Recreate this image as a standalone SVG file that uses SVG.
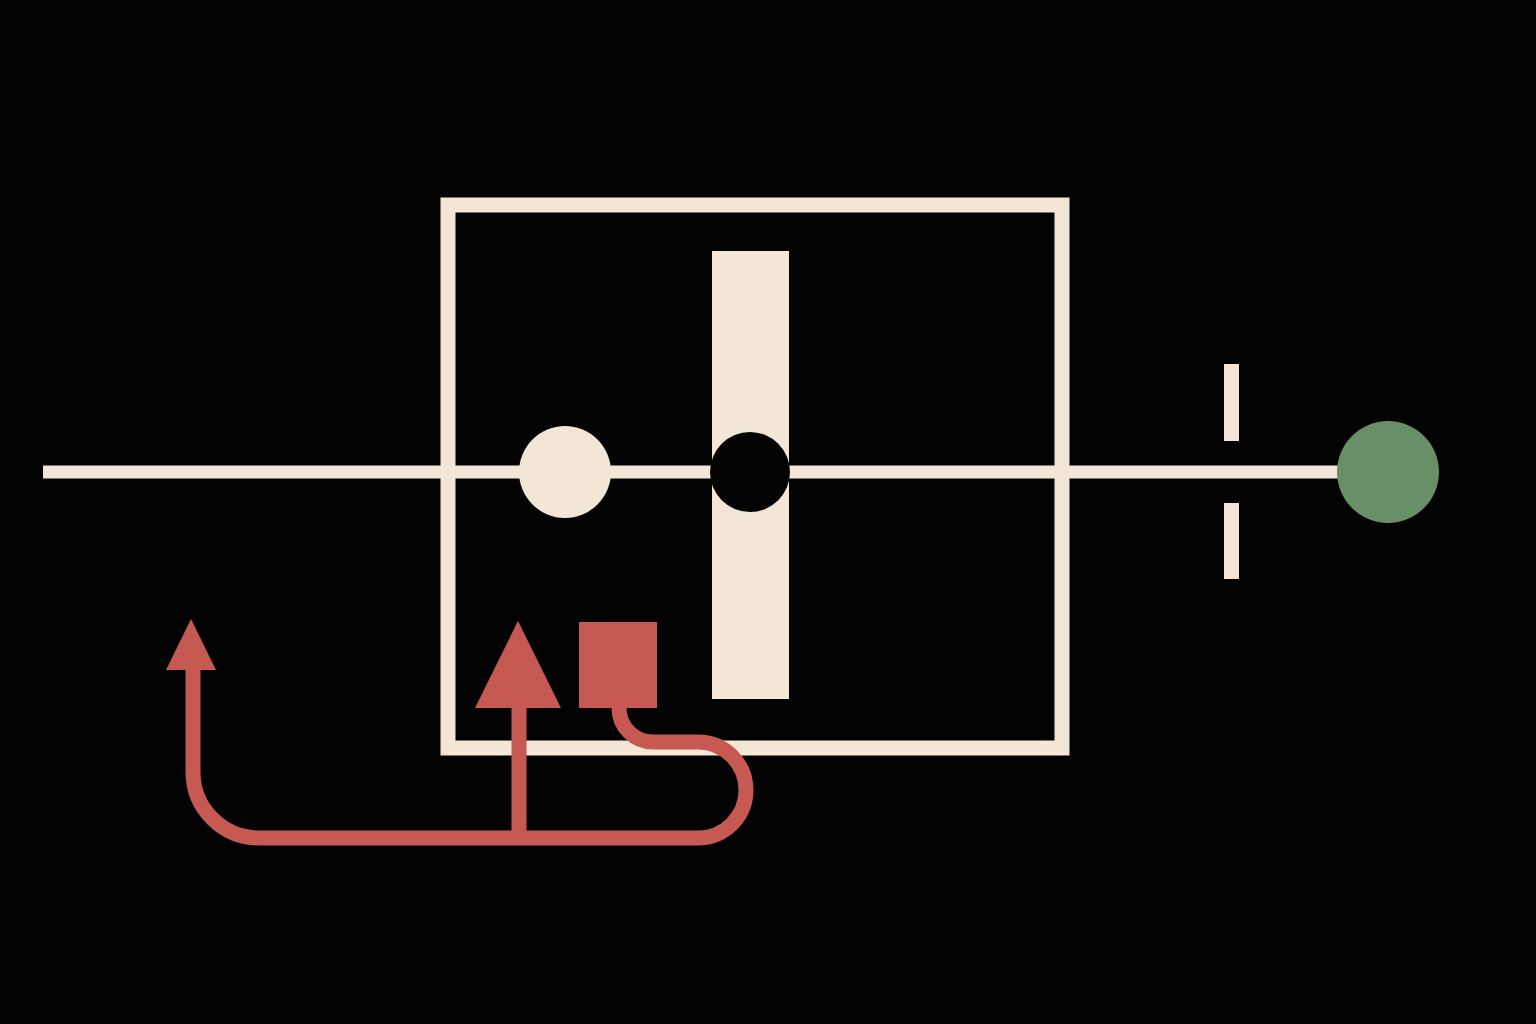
<svg xmlns="http://www.w3.org/2000/svg" width="1536" height="1024" viewBox="0 0 1536 1024">
<style>
.cream{fill:#f4e6d6}
.line{stroke:#f4e6d6;fill:none}
.red{fill:#c65a53}
.pipe{stroke:#c65a53;fill:none;stroke-width:15}
</style>
<rect width="1536" height="1024" fill="#030303"/>
<g id="connectors">
<line class="line" x1="43" y1="472" x2="1345" y2="472" stroke-width="13"/>
</g>
<g id="housing">
<rect class="line" x="448" y="205" width="614" height="543" stroke-width="15"/>
</g>
<g id="valve-ball">
<circle class="cream" cx="565" cy="472" r="46"/>
</g>
<g id="gate">
<rect class="cream" x="712" y="251" width="77" height="448"/>
<circle cx="750" cy="472" r="40" fill="#030303"/>
</g>
<g id="capacitor">
<rect class="cream" x="1224" y="364" width="15" height="77"/>
<rect class="cream" x="1224" y="503" width="15" height="76"/>
</g>
<g id="terminal">
<circle cx="1388" cy="472" r="51" fill="#698f67"/>
</g>
<g id="feedback">
<path class="pipe" d="M619 705 L619 708 A34 34 0 0 0 653 742 L698 742 A48 48 0 0 1 698 838 L259 838 A66 66 0 0 1 193 772 L193 668"/>
<path class="pipe" d="M519 705 L519 838"/>
<polygon class="red" points="191,619 216,670 166,670"/>
<polygon class="red" points="518,621 561,708 475,708"/>
<rect class="red" x="579" y="622" width="78" height="86"/>
</g>
</svg>
